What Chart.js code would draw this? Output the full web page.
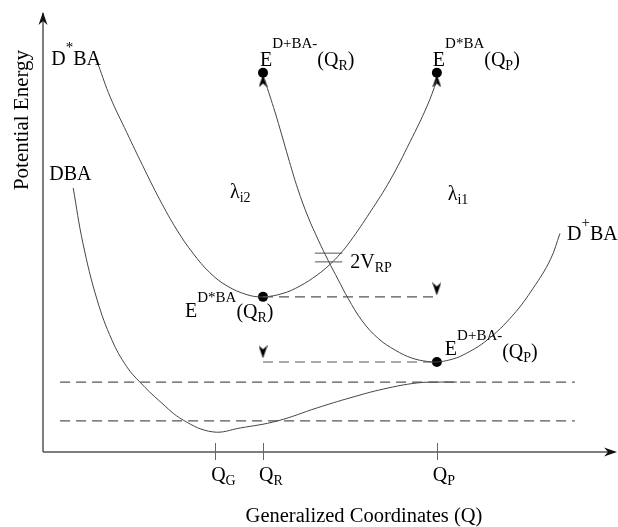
<!DOCTYPE html>
<html>
<head>
<meta charset="utf-8">
<script src="https://cdn.jsdelivr.net/npm/chart.js@4.4.1/dist/chart.umd.min.js"></script>
<style>
  html, body { margin: 0; padding: 0; background: #fff; }
  #wrap { width: 618px; height: 527px; }
</style>
</head>
<body>
<div id="wrap"><canvas id="pes" width="618" height="527"></canvas></div>
<script>
// Diabatic potential energy surfaces along the generalized coordinate Q.
// Arbitrary units: Q runs 0..10 along the axis, energy 0..10 up the axis.

const qTicks = [3.02, 3.86, 6.91];
const qTickNames = ['G', 'R', 'P'];
const [Q_G, Q_R, Q_P] = qTicks;

// D*BA (locally excited) surface
const excitedQ = [0.97, 1.18, 1.47, 1.75, 2.05, 2.35, 2.63, 2.93, 3.23, 3.58, 3.86, 4.21, 4.51, 4.81, 5.04, 5.21, 5.39, 5.74, 6.09, 6.44, 6.74, 6.91];
const excitedE = [8.86, 8.12, 7.31, 6.55, 5.77, 5.08, 4.55, 4.10, 3.80, 3.60, 3.55, 3.63, 3.80, 4.05, 4.30, 4.53, 4.82, 5.49, 6.22, 7.10, 7.92, 8.50];

// D+BA- (charge separated) surface
const chargeSepQ = [3.89, 4.07, 4.19, 4.30, 4.47, 4.65, 4.83, 5.00, 5.18, 5.35, 5.60, 5.88, 6.18, 6.47, 6.75, 6.91, 7.14, 7.37, 7.79, 8.25, 8.60, 8.90, 9.07];
const chargeSepE = [8.51, 7.78, 7.25, 6.75, 6.02, 5.38, 4.85, 4.39, 3.94, 3.52, 3.00, 2.60, 2.33, 2.15, 2.07, 2.06, 2.11, 2.22, 2.56, 3.14, 3.75, 4.40, 5.00];

// DBA ground surface
const groundQ = [0.53, 0.70, 0.95, 1.21, 1.47, 1.70, 2.05, 2.46, 2.98, 3.46, 4.11, 4.81, 5.39, 5.97, 6.56, 6.97, 7.26];
const groundE = [6.04, 4.78, 3.48, 2.56, 1.95, 1.60, 1.16, 0.73, 0.46, 0.55, 0.71, 1.01, 1.24, 1.44, 1.58, 1.60, 1.60];

// horizontal reference levels spanning the plot
const levelE = [1.60, 0.71];
const levelSpan = [0.30, 9.33];

// marked energies: E^{D+BA-}(Q_R), E^{D*BA}(Q_P), E^{D*BA}(Q_R), E^{D+BA-}(Q_P)
const dotQ = [Q_R, Q_P, Q_R, Q_P];
const dotE = [8.68, 8.68, 3.55, 2.06];

// vertical-transition arrowheads (up, up, down, down)
const arrowQ = [Q_R, Q_P, Q_P, Q_R];
const arrowE = [8.49, 8.49, 3.73, 2.29];
const arrowTurn = [0, 0, 180, 180];

// coupling gap 2V_RP at the crossing
const gapQ = [4.77, 5.25];
const gapE = [4.55, 4.35];

const INK = '#444';
const DASH = '#555';
const FONT = '"Liberation Serif", "DejaVu Serif", serif';

function pts(xs, ys) { return xs.map((x, i) => ({ x, y: ys[i] })); }

function arrowHead(w, h, color) {
  const c = document.createElement('canvas');
  c.width = w; c.height = h;
  const g = c.getContext('2d');
  g.fillStyle = color;
  g.beginPath();
  g.moveTo(w / 2, 0); g.lineTo(w, h); g.lineTo(w / 2, h * 0.7); g.lineTo(0, h);
  g.closePath(); g.fill();
  return c;
}

const curve = (data) => ({
  data, borderColor: INK, borderWidth: 1, pointRadius: 0, tension: 0.4, fill: false,
});
const dashed = (data) => ({
  data, borderColor: DASH, borderWidth: 1.2, borderDash: [10, 6], pointRadius: 0, fill: false,
});
const solid = (data) => ({ data, borderColor: '#555', borderWidth: 1, pointRadius: 0, fill: false });

const datasets = [
  dashed(levelSpan.map((x) => ({ x, y: levelE[0] }))),
  dashed(levelSpan.map((x) => ({ x, y: levelE[1] }))),
  dashed([{ x: Q_R, y: dotE[2] }, { x: Q_P, y: dotE[2] }]),
  dashed([{ x: Q_R, y: dotE[3] }, { x: Q_P, y: dotE[3] }]),
  curve(pts(excitedQ, excitedE)),
  curve(pts(chargeSepQ, chargeSepE)),
  curve(pts(groundQ, groundE)),
  solid(gapQ.map((x) => ({ x, y: gapE[0] }))),
  solid(gapQ.map((x) => ({ x, y: gapE[1] }))),
  {
    data: pts(dotQ, dotE), showLine: false,
    pointRadius: 5, pointBackgroundColor: '#000', pointBorderWidth: 0,
  },
  {
    data: pts(arrowQ, arrowE), showLine: false,
    pointStyle: arrowHead(9, 13, '#000'), pointRotation: arrowTurn,
  },
];

// rich text: [text, kind, extra dy]
const KIND = {
  n: { size: 20, dy: 0 },
  sup: { size: 15, dy: -15 },
  sub: { size: 14, dy: 4 },
};

function drawRich(ctx, x, y, parts) {
  for (const [text, kind, extra] of parts) {
    const k = KIND[kind];
    ctx.font = k.size + 'px ' + FONT;
    ctx.fillText(text, x, y + k.dy + (extra || 0));
    x += ctx.measureText(text).width;
  }
}

const notes = [
  { at: [excitedQ[0], excitedE[0]], dx: -47, dy: 0, parts: [['D', 'n'], ['*', 'sup', 2], ['BA', 'n']] },
  { at: [groundQ[0], groundE[0]], dx: -24, dy: -8, parts: [['DBA', 'n']] },
  { at: [3.28, 5.81], dx: 0, dy: 0, parts: [['λ', 'n'], ['i2', 'sub']] },
  { at: [7.10, 5.77], dx: 0, dy: 0, parts: [['λ', 'n'], ['i1', 'sub']] },
  { at: [dotQ[0], dotE[0]], dx: -3, dy: -7, parts: [['E', 'n'], ['D+BA-', 'sup', -3], ['(Q', 'n'], ['R', 'sub'], [')', 'n']] },
  { at: [dotQ[1], dotE[1]], dx: -4, dy: -7, parts: [['E', 'n'], ['D*BA', 'sup', -3], ['(Q', 'n'], ['P', 'sub'], [')', 'n']] },
  { at: [dotQ[2], dotE[2]], dx: -78, dy: 20, parts: [['E', 'n'], ['D*BA', 'sup'], ['(Q', 'n', 1], ['R', 'sub', 1], [')', 'n', 1]] },
  { at: [dotQ[3], dotE[3]], dx: 8, dy: -7, parts: [['E', 'n'], ['D+BA-', 'sup'], ['(Q', 'n', 3], ['P', 'sub', 3], [')', 'n', 3]] },
  { at: [chargeSepQ[chargeSepQ.length - 1], chargeSepE[chargeSepE.length - 1]], dx: 7, dy: 6, parts: [['D', 'n'], ['+', 'sup', 2], ['BA', 'n'], ['-', 'sup', 2]] },
  { at: [gapQ[1], gapE[1]], dx: 8, dy: 6, parts: [['2V', 'n'], ['RP', 'sub']] },
];

const frame = {
  id: 'frame',
  beforeDatasetsDraw(chart) {
    const { ctx, chartArea: a, scales: { x } } = chart;
    const ox = a.left, oy = a.bottom;
    ctx.save();
    ctx.strokeStyle = '#555';
    ctx.fillStyle = '#111';
    ctx.lineWidth = 1.5;
    ctx.beginPath();
    ctx.moveTo(ox, oy); ctx.lineTo(ox, a.top - 2);
    ctx.moveTo(ox, oy); ctx.lineTo(a.right + 2, oy);
    ctx.stroke();
    // arrowheads on both axes
    ctx.beginPath();
    ctx.moveTo(ox, a.top - 3); ctx.lineTo(ox + 4.5, a.top + 10); ctx.lineTo(ox, a.top + 6); ctx.lineTo(ox - 4.5, a.top + 10);
    ctx.closePath(); ctx.fill();
    ctx.beginPath();
    ctx.moveTo(a.right + 4, oy); ctx.lineTo(a.right - 9, oy - 4.5); ctx.lineTo(a.right - 5, oy); ctx.lineTo(a.right - 9, oy + 4.5);
    ctx.closePath(); ctx.fill();
    // tick marks
    ctx.lineWidth = 1;
    ctx.strokeStyle = '#666';
    ctx.beginPath();
    qTicks.forEach((q) => {
      const px = Math.round(x.getPixelForValue(q)) + 0.5;
      ctx.moveTo(px, oy - 9); ctx.lineTo(px, oy + 8);
    });
    ctx.stroke();
    ctx.restore();
  },
  afterDatasetsDraw(chart) {
    const { ctx, chartArea: a, scales: { x, y } } = chart;
    ctx.save();
    ctx.fillStyle = '#000';
    ctx.textBaseline = 'alphabetic';
    ctx.textAlign = 'left';
    qTicks.forEach((q, i) => {
      drawRich(ctx, x.getPixelForValue(q) - 4, a.bottom + 29, [['Q', 'n'], [qTickNames[i], 'sub']]);
    });
    notes.forEach((n) => {
      drawRich(ctx, x.getPixelForValue(n.at[0]) + n.dx, y.getPixelForValue(n.at[1]) + n.dy, n.parts);
    });
    ctx.font = '20.5px ' + FONT;
    ctx.textAlign = 'center';
    ctx.fillText('Generalized Coordinates (Q)', 364, 522);
    ctx.translate(28, 120);
    ctx.rotate(-Math.PI / 2);
    ctx.font = '21px ' + FONT;
    ctx.fillText('Potential Energy', 0, 0);
    ctx.restore();
  },
};

new Chart(document.getElementById('pes'), {
  type: 'line',
  data: { datasets },
  options: {
    responsive: false,
    animation: false,
    events: [],
    layout: { padding: { left: 43, right: 5, top: 15, bottom: 75 } },
    plugins: { legend: { display: false }, tooltip: { enabled: false } },
    scales: {
      x: { type: 'linear', min: 0, max: 10, display: false },
      y: { type: 'linear', min: 0, max: 10, display: false },
    },
  },
  plugins: [frame],
});
</script>
</body>
</html>
